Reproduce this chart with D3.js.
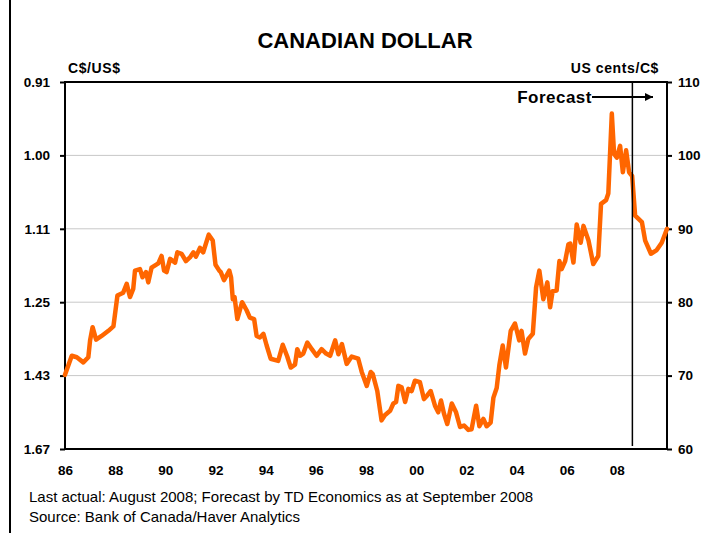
<!DOCTYPE html>
<html>
<head>
<meta charset="utf-8">
<script src="https://cdn.jsdelivr.net/npm/d3@7"></script>
<style>
  html, body { margin: 0; padding: 0; background: #fff; }
  svg { display: block; font-family: Arial, "Liberation Sans", sans-serif; }
</style>
</head>
<body>
<svg id="chart" width="704" height="533"></svg>
<script>
// ---- data ----
const dates = [
  1986.00,1986.27,1986.47,1986.73,1986.93,1987.00,1987.10,1987.24,1987.46,1987.73,
  1987.93,1988.09,1988.32,1988.46,1988.59,1988.72,1988.79,1988.99,1989.09,1989.23,
  1989.32,1989.45,1989.72,1989.85,1989.95,1990.05,1990.19,1990.39,1990.48,1990.65,
  1990.82,1990.98,1991.12,1991.22,1991.38,1991.51,1991.73,1991.89,1992.00,1992.15,
  1992.21,1992.34,1992.55,1992.62,1992.69,1992.76,1992.87,1993.06,1993.24,1993.37,
  1993.54,1993.64,1993.77,1993.91,1994.04,1994.20,1994.50,1994.68,1994.86,1995.00,
  1995.17,1995.26,1995.37,1995.50,1995.66,1995.84,1996.03,1996.23,1996.41,1996.57,
  1996.77,1996.90,1997.04,1997.23,1997.43,1997.69,1997.83,1998.03,1998.19,1998.27,
  1998.45,1998.62,1998.75,1998.96,1999.09,1999.20,1999.29,1999.42,1999.56,1999.69,
  1999.82,1999.95,2000.15,2000.31,2000.44,2000.58,2000.75,2000.88,2000.99,2001.11,
  2001.24,2001.42,2001.59,2001.75,2001.91,2002.08,2002.21,2002.39,2002.52,2002.68,
  2002.81,2002.97,2003.08,2003.21,2003.32,2003.45,2003.58,2003.77,2003.94,2004.11,
  2004.20,2004.34,2004.47,2004.65,2004.78,2004.91,2005.07,2005.23,2005.34,2005.44,
  2005.60,2005.71,2005.80,2005.94,2006.07,2006.14,2006.27,2006.40,2006.56,2006.67,
  2006.87,2007.06,2007.26,2007.37,2007.57,2007.66,2007.80,2007.89,2008.00,2008.13,
  2008.24,2008.37,2008.49,2008.61,2008.73,2009.00,2009.13,2009.36,2009.59,2009.79,
  2010.00
];
const usCents = [
  70.1,72.7,72.5,71.8,72.5,74.8,76.6,74.9,75.4,76.1,
  76.7,80.9,81.3,82.5,80.7,81.8,84.3,84.5,83.4,84.1,
  82.7,84.7,85.3,86.3,84.3,84.1,85.9,85.4,86.8,86.6,
  85.6,86.1,86.8,86.2,87.4,86.8,89.2,88.4,85.1,84.3,
  84.1,83.0,84.3,83.4,80.4,80.7,77.7,80.0,78.9,77.9,
  77.7,75.4,75.2,75.7,74.1,72.3,72.0,74.2,72.6,71.1,
  71.5,73.6,72.7,73.0,74.5,73.6,72.7,73.6,73.0,72.7,
  74.8,72.9,74.3,71.6,72.6,72.3,70.5,68.6,70.5,70.2,
  67.9,63.9,64.6,65.2,66.2,66.4,68.6,68.4,66.4,68.2,
  67.9,69.3,69.1,66.8,67.3,67.9,65.9,65.0,66.6,64.8,
  63.4,66.2,65.0,63.0,63.2,62.6,62.7,65.9,63.1,64.1,
  63.1,63.6,67.0,68.3,71.5,74.1,71.1,76.1,77.1,74.8,
  76.1,73.0,75.0,75.7,82.0,84.3,80.4,82.7,79.3,81.5,
  81.6,85.6,84.5,85.6,87.9,88.0,85.4,90.6,88.1,90.4,
  88.4,85.2,86.3,93.4,93.9,94.8,105.7,100.2,99.7,101.3,
  97.7,100.7,97.7,97.2,91.8,90.9,88.4,86.6,87.1,88.1,
  90.0
];
const rightTicks = [110, 100, 90, 80, 70, 60];
const leftTickLabels = ["0.91", "1.00", "1.11", "1.25", "1.43", "1.67"];
const xTickYears = [1986,1988,1990,1992,1994,1996,1998,2000,2002,2004,2006,2008];
const xTickLabels = ["86","88","90","92","94","96","98","00","02","04","06","08"];
const forecastStart = 2008.62;

// ---- layout ----
const svg = d3.select("#chart");
const L = 65, R = 667, T = 82, B = 449;
const x = d3.scaleLinear().domain([1986, 2010]).range([L, R]);
const y = d3.scaleLinear().domain([60, 110]).range([B, T]);

// outer frame left edge
svg.append("line").attr("x1", 10).attr("x2", 10).attr("y1", 0).attr("y2", 533)
  .attr("stroke", "#000").attr("stroke-width", 2);

// title
svg.append("text").attr("x", 365).attr("y", 48).attr("text-anchor", "middle")
  .attr("font-size", 22).attr("font-weight", "bold").text("CANADIAN DOLLAR");

// gridlines
svg.append("g").selectAll("line").data([100, 90, 80, 70]).join("line")
  .attr("x1", L).attr("x2", R).attr("y1", d => y(d)).attr("y2", d => y(d))
  .attr("stroke", "#c8c8c8").attr("stroke-width", 1);

// left axis
const leftAxis = d3.axisLeft(y).tickValues(rightTicks).tickSize(5).tickPadding(10)
  .tickFormat((d, i) => leftTickLabels[i]);
const gl = svg.append("g").attr("transform", `translate(${L},0)`).call(leftAxis);
// right axis
const rightAxis = d3.axisRight(y).tickValues(rightTicks).tickSize(5).tickPadding(6)
  .tickFormat(d3.format("d"));
const gr = svg.append("g").attr("transform", `translate(${R},0)`).call(rightAxis);
// bottom axis (labels only)
const bottomAxis = d3.axisBottom(x).tickValues(xTickYears).tickSize(0).tickPadding(16)
  .tickFormat((d, i) => xTickLabels[i]);
const gb = svg.append("g").attr("transform", `translate(0,${B})`).call(bottomAxis);

[gl, gr, gb].forEach(g => {
  g.select(".domain").remove();
  g.selectAll("text").attr("font-size", 13.5).attr("font-weight", "bold")
    .attr("fill", "#000").attr("font-family", "Arial, 'Liberation Sans', sans-serif");
  g.selectAll(".tick line").attr("stroke", "#000").attr("stroke-width", 2);
});

// plot box
svg.append("rect").attr("x", L).attr("y", T).attr("width", R - L).attr("height", B - T)
  .attr("fill", "none").attr("stroke", "#000").attr("stroke-width", 2);

// axis titles
svg.append("text").attr("x", 68).attr("y", 73).attr("font-size", 14)
  .attr("font-weight", "bold").attr("letter-spacing", 0.6).text("C$/US$");
svg.append("text").attr("x", 659).attr("y", 73).attr("text-anchor", "end")
  .attr("font-size", 14).attr("font-weight", "bold").attr("letter-spacing", 0.6)
  .text("US cents/C$");

// data line
const data = dates.map((d, i) => ({ t: d, v: usCents[i] }));
svg.append("path").datum(data)
  .attr("fill", "none").attr("stroke", "#ff6600").attr("stroke-width", 4.5)
  .attr("stroke-linejoin", "round").attr("stroke-linecap", "round")
  .attr("d", d3.line().x(d => x(d.t)).y(d => y(d.v)));

// forecast marker
svg.append("line").attr("x1", x(forecastStart)).attr("x2", x(forecastStart))
  .attr("y1", T).attr("y2", B - 3).attr("stroke", "#000").attr("stroke-width", 1.5);
svg.append("defs").append("marker").attr("id", "arr").attr("viewBox", "0 0 10 10")
  .attr("refX", 10).attr("refY", 5).attr("markerWidth", 10).attr("markerHeight", 8)
  .attr("markerUnits", "userSpaceOnUse").attr("orient", "auto")
  .append("path").attr("d", "M0,0 L10,5 L0,10 z").attr("fill", "#000");
svg.append("line").attr("x1", 592).attr("x2", 653).attr("y1", 97).attr("y2", 97)
  .attr("stroke", "#000").attr("stroke-width", 2).attr("marker-end", "url(#arr)");
svg.append("text").attr("x", 592).attr("y", 103).attr("text-anchor", "end")
  .attr("font-size", 17).attr("font-weight", "bold").attr("letter-spacing", 0.5)
  .text("Forecast");

// footer
svg.append("text").attr("x", 29).attr("y", 502).attr("font-size", 15)
  .text("Last actual: August 2008; Forecast by TD Economics as at September 2008");
svg.append("text").attr("x", 29).attr("y", 522).attr("font-size", 15)
  .text("Source: Bank of Canada/Haver Analytics");
</script>
</body>
</html>
